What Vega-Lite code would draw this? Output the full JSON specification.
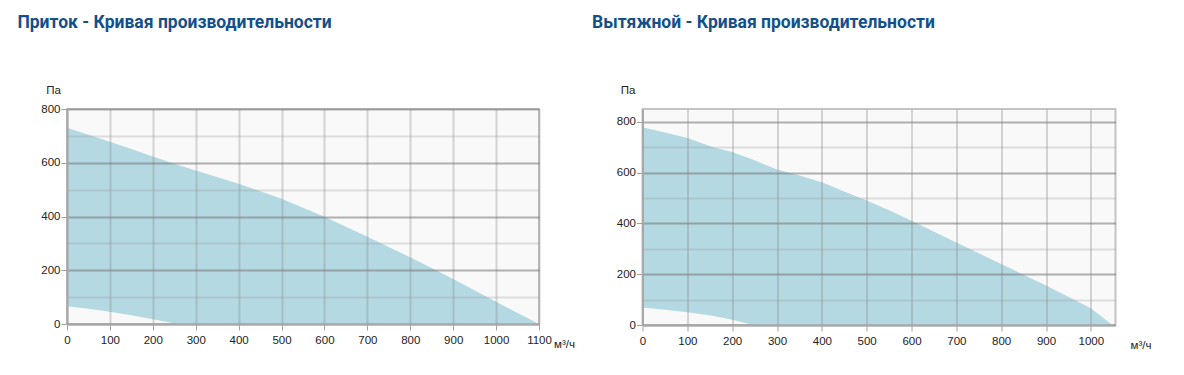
{
  "$schema": "https://vega.github.io/schema/vega-lite/v6.json",
  "padding": {"left": 16, "top": 12, "right": 0, "bottom": 0},
  "spacing": 14.5,
  "datasets": {
    "supply": [
      {"q": 0, "hi": 730, "lo": 66},
      {"q": 50, "hi": 704, "lo": 57},
      {"q": 100, "hi": 678, "lo": 46},
      {"q": 150, "hi": 651, "lo": 33},
      {"q": 200, "hi": 623, "lo": 18},
      {"q": 257, "hi": 593, "lo": 0},
      {"q": 300, "hi": 571, "lo": 0},
      {"q": 400, "hi": 522, "lo": 0},
      {"q": 500, "hi": 466, "lo": 0},
      {"q": 600, "hi": 399, "lo": 0},
      {"q": 700, "hi": 325, "lo": 0},
      {"q": 800, "hi": 248, "lo": 0},
      {"q": 900, "hi": 167, "lo": 0},
      {"q": 1000, "hi": 83, "lo": 0},
      {"q": 1100, "hi": 0, "lo": 0}
    ],
    "exhaust": [
      {"q": 0, "hi": 778, "lo": 69},
      {"q": 50, "hi": 758, "lo": 60},
      {"q": 100, "hi": 736, "lo": 50},
      {"q": 156, "hi": 700, "lo": 36},
      {"q": 200, "hi": 681, "lo": 21},
      {"q": 247, "hi": 650, "lo": 0},
      {"q": 300, "hi": 612, "lo": 0},
      {"q": 350, "hi": 588, "lo": 0},
      {"q": 400, "hi": 562, "lo": 0},
      {"q": 450, "hi": 525, "lo": 0},
      {"q": 500, "hi": 490, "lo": 0},
      {"q": 550, "hi": 452, "lo": 0},
      {"q": 600, "hi": 410, "lo": 0},
      {"q": 700, "hi": 325, "lo": 0},
      {"q": 800, "hi": 240, "lo": 0},
      {"q": 900, "hi": 155, "lo": 0},
      {"q": 1000, "hi": 66, "lo": 0},
      {"q": 1048, "hi": 0, "lo": 0}
    ]
  },
  "config": {
    "font": "Liberation Sans",
    "view": {"fill": "#f9f9f9", "stroke": "#c4c4c4", "strokeWidth": 2},
    "axis": {
      "labelFont": "Liberation Sans",
      "labelFontSize": 11.5,
      "labelColor": "#222",
      "titleFont": "Liberation Sans",
      "titleFontSize": 11.5,
      "titleFontWeight": "normal",
      "titleColor": "#222",
      "domainColor": "#a8a8a8",
      "domainWidth": 2,
      "tickColor": "#a0a0a0",
      "tickSize": 6,
      "labelOverlap": false,
      "labelFlush": false,
      "format": "d"
    },
    "axisX": {"labelPadding": 4, "gridColor": "#8a8a8a", "gridOpacity": 0.34, "gridWidth": 2},
    "axisY": {"labelPadding": 1},
    "title": {"anchor": "start", "frame": "group", "baseline": "alphabetic", "font": "Roboto", "fontSize": 17.5, "fontWeight": "bold", "color": "#12508c", "offset": 53}
  },
  "hconcat": [
    {
      "width": 472,
      "height": 215,
      "title": {"text": "Приток - Кривая производительности", "dx": -49.6},
      "data": {"name": "supply"},
      "mark": {"type": "area", "color": "#b4d9e3", "opacity": 1},
      "encoding": {
        "x": {
          "field": "q", "type": "quantitative",
          "scale": {"domain": [0, 1100], "nice": false},
          "axis": {"zindex": 1, "format": "d", "values": [0, 100, 200, 300, 400, 500, 600, 700, 800, 900, 1000, 1100], "title": "м³/ч", "titleX": 497, "titleY": 23, "titleAlign": "center", "titleBaseline": "alphabetic"}
        },
        "y": {
          "field": "hi", "type": "quantitative",
          "scale": {"domain": [0, 800], "nice": false},
          "axis": {
            "zindex": 1,
            "format": "d",
            "values": [0, 100, 200, 300, 400, 500, 600, 700, 800],
            "labelExpr": "datum.value % 200 === 0 ? datum.label : ''",
            "tickOpacity": {"condition": {"test": "datum.value % 200 === 0", "value": 1}, "value": 0},
            "gridColor": {"condition": {"test": "datum.value % 200 === 0", "value": "#7a7a7a"}, "value": "#9a9a9a"},
            "gridOpacity": {"condition": {"test": "datum.value % 200 === 0", "value": 0.58}, "value": 0.3},
            "gridWidth": 2,
            "title": "Па", "titleAngle": 0, "titleX": -14, "titleY": -16, "titleAlign": "center", "titleBaseline": "alphabetic"
          }
        },
        "y2": {"field": "lo"}
      }
    },
    {
      "width": 473,
      "height": 216,
      "title": {"text": "Вытяжной - Кривая производительности", "dx": -50.5},
      "data": {"name": "exhaust"},
      "mark": {"type": "area", "color": "#b4d9e3", "opacity": 1},
      "encoding": {
        "x": {
          "field": "q", "type": "quantitative",
          "scale": {"domain": [0, 1055], "nice": false},
          "axis": {"zindex": 1, "format": "d", "values": [0, 100, 200, 300, 400, 500, 600, 700, 800, 900, 1000], "title": "м³/ч", "titleX": 498, "titleY": 23, "titleAlign": "center", "titleBaseline": "alphabetic"}
        },
        "y": {
          "field": "hi", "type": "quantitative",
          "scale": {"domain": [0, 850], "nice": false},
          "axis": {
            "zindex": 1,
            "format": "d",
            "values": [0, 100, 200, 300, 400, 500, 600, 700, 800],
            "labelExpr": "datum.value % 200 === 0 ? datum.label : ''",
            "tickOpacity": {"condition": {"test": "datum.value % 200 === 0", "value": 1}, "value": 0},
            "gridColor": {"condition": {"test": "datum.value % 200 === 0", "value": "#7a7a7a"}, "value": "#9a9a9a"},
            "gridOpacity": {"condition": {"test": "datum.value % 200 === 0", "value": 0.58}, "value": 0.3},
            "gridWidth": 2,
            "title": "Па", "titleAngle": 0, "titleX": -15, "titleY": -16, "titleAlign": "center", "titleBaseline": "alphabetic"
          }
        },
        "y2": {"field": "lo"}
      }
    }
  ]
}
